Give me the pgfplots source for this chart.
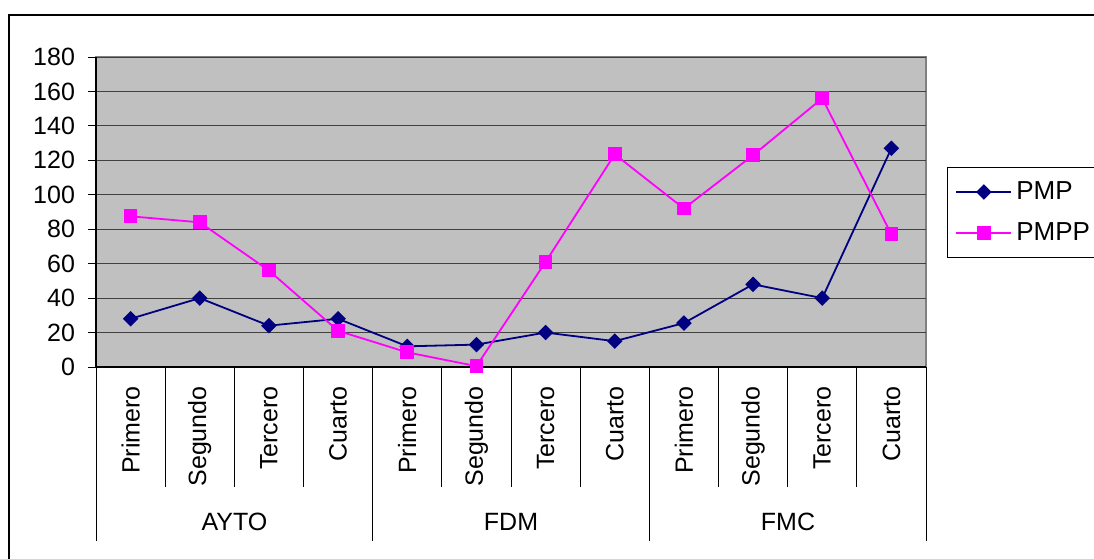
\documentclass[border=0pt]{standalone}
\usepackage{fontspec}
\setmainfont{Liberation Sans}
\usepackage{pgfplots}
\pgfplotsset{compat=1.18}
\definecolor{pmp}{RGB}{0,0,128}
\definecolor{pmpp}{RGB}{255,0,255}
\definecolor{bg}{RGB}{192,192,192}
\newcommand{\lf}{\fontsize{12.5}{15}\selectfont}
\begin{document}
\begin{tikzpicture}[x=0.5pt,y=0.5pt]
\useasboundingbox (0,0) rectangle (1094,558);
\draw[line width=0.8pt] (9,543) rectangle (1110,-20);
\begin{axis}[
 at={(96pt*0.5,191pt*0.5)}, anchor=south west,
 scale only axis, width=415pt, height=155pt,
 xmin=-0.5, xmax=11.5, ymin=0, ymax=180,
 xtick=\empty, ytick={0,20,...,180},
 axis lines*=left,
 tick align=outside, major tick length=4pt,
 ymajorgrids, grid style={black!75, line width=0.5pt},
 axis background/.style={fill=bg, draw=black!50, line width=0.8pt},
 axis line style={line width=0.6pt, black},
 tick style={black, line width=0.5pt},
 ticklabel style={font=\lf},
 yticklabel style={xshift=-3pt},
 /pgf/number format/assume math mode=true,
 clip=false,
 legend style={at={(1.0253,0.645)}, anchor=north west, draw=black, line width=0.5pt,
   font=\fontsize{13}{15}\selectfont, inner xsep=4pt, inner ysep=5pt, row sep=6pt,
   cells={anchor=west}},
 legend image code/.code={\draw[mark repeat=2,mark phase=2,#1] plot coordinates {(0pt,0pt) (13.75pt,0pt) (27.5pt,0pt)};},
]
\addplot[color=pmp, line width=0.9pt, mark=square*, mark size=2.3pt, mark options={fill=pmp, solid, rotate=45}]
 coordinates {(0,28) (1,40) (2,24) (3,28) (4,12) (5,13) (6,20) (7,15) (8,25.5) (9,48) (10,40) (11,127)};
\addlegendentry{PMP}
\addplot[color=pmpp, line width=0.9pt, mark=square*, mark size=3pt, mark options={fill=pmpp, solid}]
 coordinates {(0,87.5) (1,84) (2,56) (3,21) (4,8.5) (5,0.5) (6,61) (7,123.5) (8,92) (9,123) (10,156) (11,77)};
\addlegendentry{PMPP}
\end{axis}
\foreach \k in {1,2,3,5,6,7,9,10,11} \draw[line width=0.5pt] ({96+\k*69.1667},191) -- ++(0,-120);
\foreach \k in {0,4,8,12} \draw[line width=0.5pt] ({96+\k*69.1667},191) -- ++(0,-174);
\foreach \k/\n in {0/Primero,1/Segundo,2/Tercero,3/Cuarto,4/Primero,5/Segundo,6/Tercero,7/Cuarto,8/Primero,9/Segundo,10/Tercero,11/Cuarto}
  \node[rotate=90, anchor=east, inner sep=0pt, font=\lf] at ({96+(\k+0.5)*69.1667},172) {\n};
\node[font=\lf] at (234.5,36) {AYTO};
\node[font=\lf] at (511,36) {FDM};
\node[font=\lf] at (788,36) {FMC};
\end{tikzpicture}
\end{document}
